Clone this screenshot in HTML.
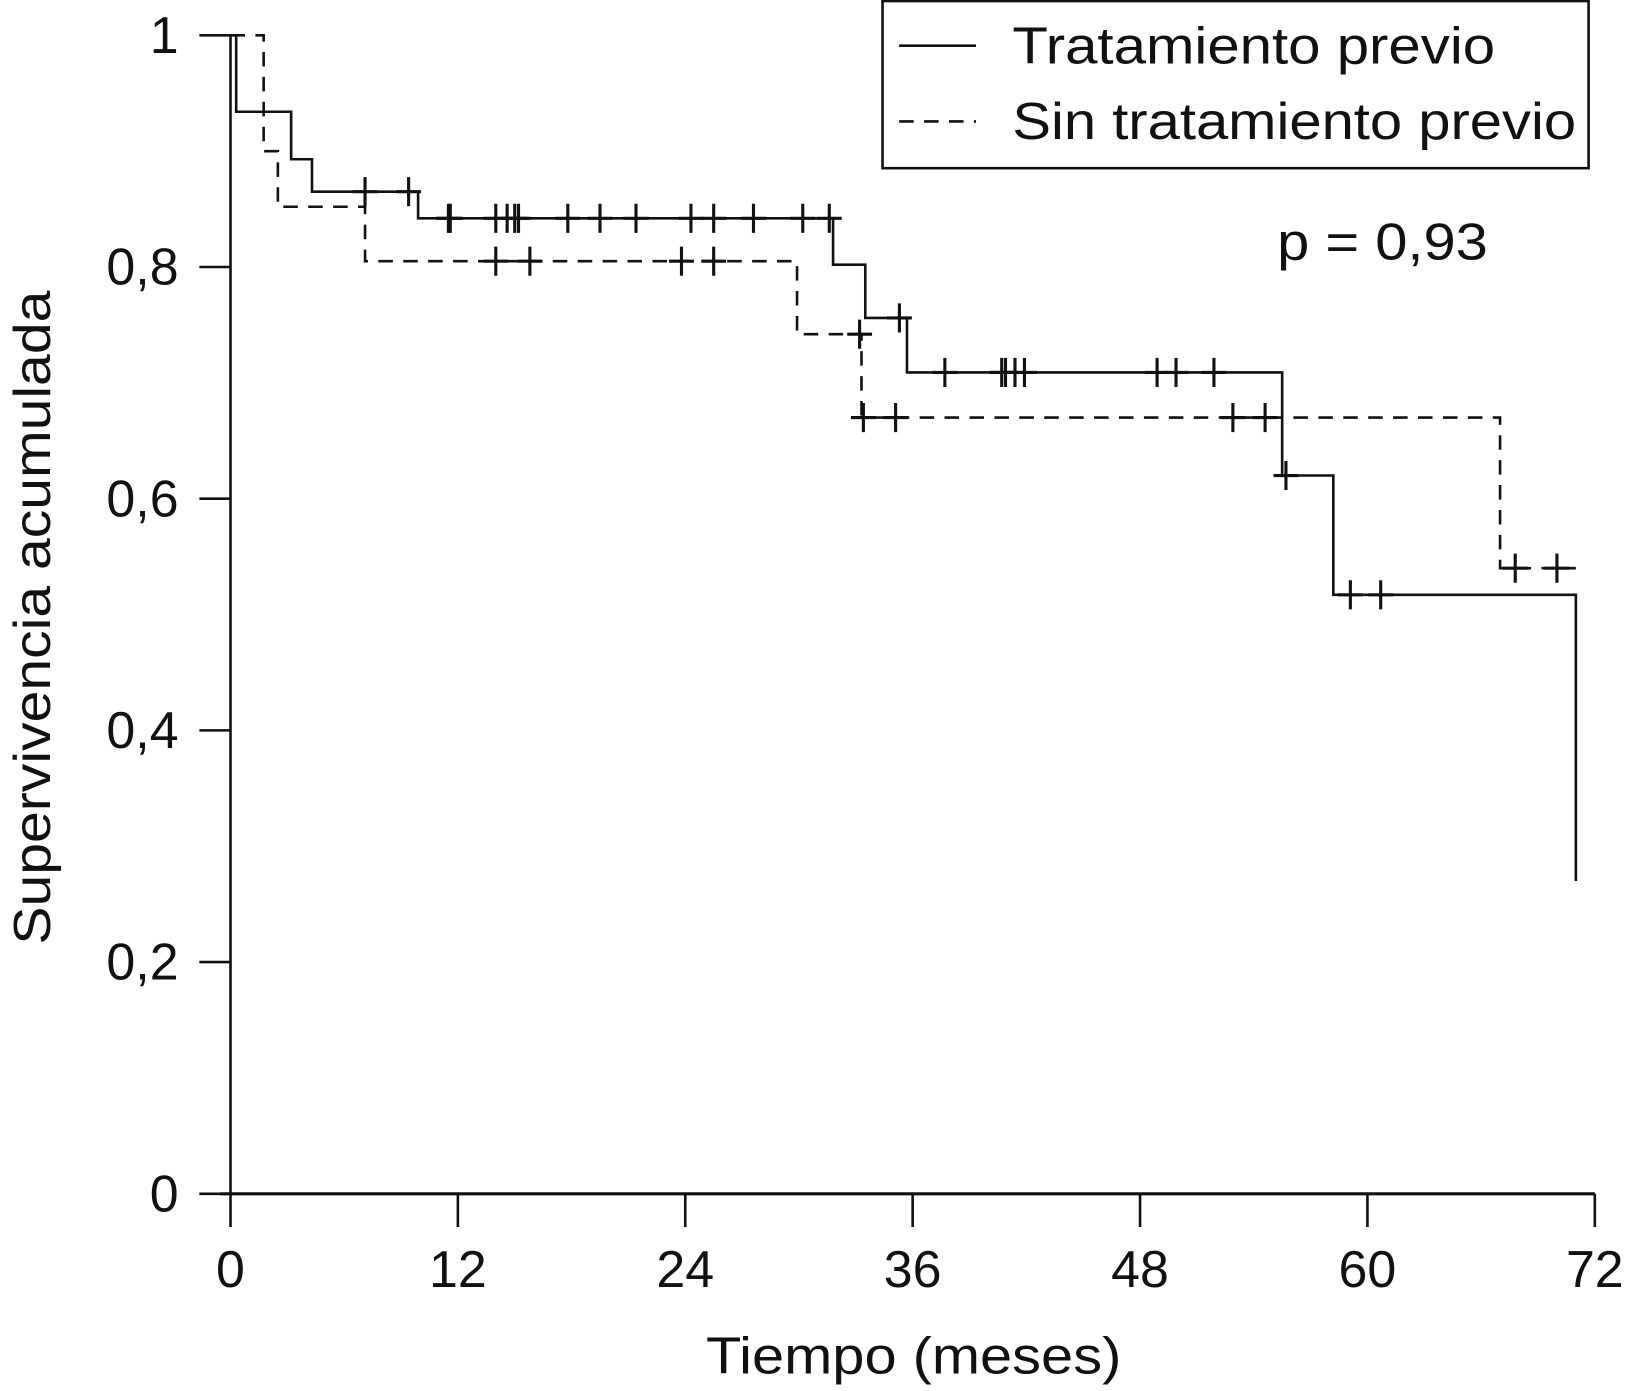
<!DOCTYPE html>
<html><head><meta charset="utf-8"><style>
html,body{margin:0;padding:0;background:#fff;}
svg{display:block;}
text{font-family:"Liberation Sans",sans-serif;fill:#111;}
</style></head><body>
<svg id="chart" width="1627" height="1391" viewBox="0 0 1567 1340" preserveAspectRatio="none" xmlns="http://www.w3.org/2000/svg">
<g id="axes"></g>
<g id="series"></g>
<g>
<rect x="850" y="1" width="680" height="161" fill="#fff" stroke="#111" stroke-width="2.5"/>
<line x1="866" y1="44" x2="940" y2="44" stroke="#111" stroke-width="2.5"/>
<text x="975" y="61" font-size="50" textLength="465" lengthAdjust="spacingAndGlyphs">Tratamiento previo</text>
<line x1="866" y1="117" x2="940" y2="117" stroke="#111" stroke-width="2.5" stroke-dasharray="14,10"/>
<text x="975" y="134" font-size="50" textLength="543" lengthAdjust="spacingAndGlyphs">Sin tratamiento previo</text>
</g>
<text x="1230" y="250" font-size="50" textLength="203" lengthAdjust="spacingAndGlyphs">p = 0,93</text>
<text x="880" y="1323" font-size="50" text-anchor="middle" textLength="400" lengthAdjust="spacingAndGlyphs">Tiempo (meses)</text>
<text transform="translate(48,595) rotate(-90)" font-size="50" text-anchor="middle" textLength="630" lengthAdjust="spacingAndGlyphs">Supervivencia acumulada</text>
</svg>
<script>
const xTicks=[0,12,24,36,48,60,72];
const yTicks=[0,0.2,0.4,0.6,0.8,1];
const yTickLabels=["0","0,2","0,4","0,6","0,8","1"];
// Tratamiento previo (solid): step times and survival after each step
const solidTimes=[0,0.3,3.2,4.3,9.9,31.8,33.5,35.7,55.5,58.2,71];
const solidSurv=[1,0.934,0.893,0.865,0.842,0.802,0.756,0.709,0.620,0.517,0.27];
const solidCensorT=[7.1,9.4,11.5,11.6,14,14.6,15,15.2,17.8,19.5,21.4,24.3,25.5,27.6,30.2,31.6,35.3,37.7,40.7,40.9,41.4,41.9,48.9,49.9,51.9,55.7,59.1,60.7];
// Sin tratamiento previo (dashed)
const dashTimes=[0,1.75,2.5,7.1,29.9,33.3,67];
const dashSurv=[1,0.9,0.852,0.805,0.742,0.67,0.54];
const dashEnd=71;
const dashCensorT=[14,15.8,23.8,25.5,33.2,33.4,35.1,52.9,54.6,67.8,70];

const NS="http://www.w3.org/2000/svg";
const X=t=>222+t*(1536-222)/72;
const Y=v=>1150-v*(1150-34);
function mk(tag,attrs,parent){const e=document.createElementNS(NS,tag);for(const k in attrs)e.setAttribute(k,attrs[k]);parent.appendChild(e);return e;}
const axes=document.getElementById('axes'),ser=document.getElementById('series');
let e=mk('line',{x1:X(0),y1:Y(0),x2:X(0),y2:Y(1),stroke:'#111','stroke-width':2.5},axes);

e=mk('line',{x1:X(0)-10,y1:Y(0),x2:X(72),y2:Y(0),stroke:'#111','stroke-width':3},axes);

xTicks.forEach(t=>{
 const l=mk('line',{x1:X(t),y1:Y(0),x2:X(t),y2:Y(0)+32,stroke:'#111','stroke-width':2.5},axes);
 
 const tx=mk('text',{x:X(t),y:1240,'font-size':50,'text-anchor':'middle'},axes);tx.textContent=String(t);
 
});
yTicks.forEach((v,i)=>{
 const l=mk('line',{x1:X(0)-30,y1:Y(v),x2:X(0),y2:Y(v),stroke:'#111','stroke-width':2.5},axes);
 
 const tx=mk('text',{x:172,y:Y(v)+17,'font-size':50,'text-anchor':'end'},axes);tx.textContent=yTickLabels[i];
 
});
function survAt(times,surv,t){let s=surv[0];for(let i=0;i<times.length;i++){if(times[i]<=t)s=surv[i];}return s;}
function stepPath(times,surv,end){let d=`M${X(0)},${Y(surv[0])}`;for(let i=1;i<times.length;i++){d+=` H${X(times[i])} V${Y(surv[i])}`;}if(end!==undefined)d+=` H${X(end)}`;return d;}
e=mk('path',{d:stepPath(solidTimes,solidSurv),fill:'none',stroke:'#111','stroke-width':2.5},ser);

e=mk('path',{d:stepPath(dashTimes,dashSurv,dashEnd),fill:'none',stroke:'#111','stroke-width':2.5,'stroke-dasharray':'14,10'},ser);

function cross(t,v,name){const x=X(t),y=Y(v);
 const p=mk('path',{d:`M${x-12},${y} H${x+12} M${x},${y-14} V${y+14}`,stroke:'#111','stroke-width':3},ser);
 }
solidCensorT.forEach(t=>cross(t,survAt(solidTimes,solidSurv,t),'censor-tratamiento'));
dashCensorT.forEach(t=>cross(t,survAt(dashTimes,dashSurv,t),'censor-sin-tratamiento'));
</script>
</body></html>
